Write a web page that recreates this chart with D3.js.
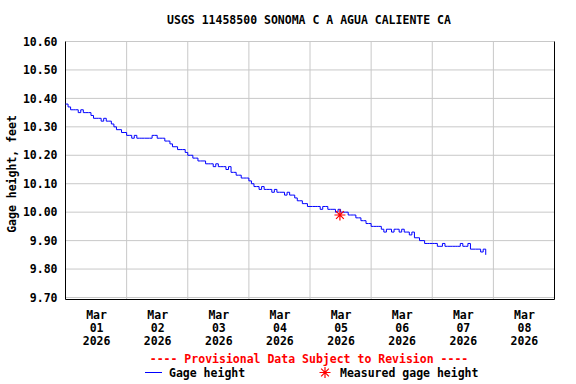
<!DOCTYPE html>
<html>
<head>
<meta charset="utf-8">
<script src="https://cdn.jsdelivr.net/npm/d3@7"></script>
<style>
body { margin: 0; background: #fff; }
text { font-family: "DejaVu Sans Mono", monospace; font-weight: bold; font-size: 11.5px; }
</style>
</head>
<body>
<div id="figzone"></div>
<script>
// hourly gage height (ft), one array per day starting Mar 01 00:00
var gageMar01 = [10.38,10.37,10.36,10.36,10.36,10.35,10.36,10.35,10.35,10.35,10.34,10.33,10.33,10.33,10.32,10.33,10.32,10.32,10.31,10.30,10.29,10.29,10.28,10.28];
var gageMar02 = [10.27,10.27,10.26,10.27,10.26,10.26,10.26,10.26,10.26,10.26,10.27,10.27,10.26,10.26,10.26,10.25,10.25,10.24,10.23,10.23,10.22,10.22,10.22,10.21];
var gageMar03 = [10.20,10.20,10.19,10.19,10.18,10.18,10.18,10.17,10.17,10.17,10.16,10.17,10.16,10.16,10.16,10.15,10.16,10.14,10.14,10.13,10.13,10.12,10.12,10.12];
var gageMar04 = [10.11,10.10,10.09,10.09,10.08,10.09,10.08,10.08,10.08,10.07,10.08,10.07,10.07,10.07,10.06,10.07,10.06,10.06,10.05,10.04,10.04,10.03,10.03,10.02];
var gageMar05 = [10.02,10.02,10.02,10.02,10.01,10.02,10.02,10.01,10.01,10.01,10.00,10.01,10.00,10.00,10.00,9.99,9.99,9.99,9.98,9.98,9.97,9.97,9.96,9.96];
var gageMar06 = [9.95,9.95,9.95,9.95,9.94,9.93,9.94,9.94,9.93,9.94,9.94,9.93,9.94,9.93,9.93,9.92,9.93,9.91,9.91,9.90,9.90,9.89,9.89,9.89];
var gageMar07 = [9.89,9.89,9.88,9.88,9.89,9.88,9.88,9.88,9.88,9.88,9.88,9.89,9.88,9.88,9.89,9.87,9.87,9.87,9.87,9.86,9.87,9.85];

var measuredTime = [new Date(Date.UTC(2026, 2, 5, 11, 45))];
var measuredValue = [9.99];

var yTicks = [9.70, 9.80, 9.90, 10.00, 10.10, 10.20, 10.30, 10.40, 10.50, 10.60];
var dayLabels = ["01", "02", "03", "04", "05", "06", "07", "08"];

var figWidth = 576, figHeight = 384;
var plotL = 65.5, plotR = 554.5, plotT = 41.5, plotB = 297.5;

var svg = d3.select("#figzone").append("svg").attr("width", figWidth).attr("height", figHeight);

var x = d3.scaleUtc().domain([new Date(Date.UTC(2026, 2, 1)), new Date(Date.UTC(2026, 2, 9))]).range([plotL, plotR]);
var y = d3.scaleLinear().domain([9.70, 10.60]).range([plotB, plotT]);

// build series
var series = [];
[gageMar01, gageMar02, gageMar03, gageMar04, gageMar05, gageMar06, gageMar07].forEach(function(arr, di){
    arr.forEach(function(v, h){
        series.push({t: new Date(Date.UTC(2026, 2, 1 + di, h)), v: v});
    });
});

// grid
var gGrid = svg.append("g").attr("class", "grid");
var midnights = d3.range(1, 8).map(function(i){ return new Date(Date.UTC(2026, 2, 1 + i)); });
gGrid.selectAll("line.v").data(midnights).enter().append("line")
    .attr("x1", function(d){ return x(d); }).attr("x2", function(d){ return x(d); })
    .attr("y1", plotT).attr("y2", plotB + 2)
    .style("stroke", "#c8c8c8").style("stroke-width", 1);
gGrid.selectAll("line.h").data(yTicks).enter().append("line")
    .attr("x1", plotL).attr("x2", plotR)
    .attr("y1", function(d){ return y(d); }).attr("y2", function(d){ return y(d); })
    .style("stroke", "#c8c8c8").style("stroke-width", 1);

// frame (left, bottom, right)
svg.append("path")
    .attr("d", "M" + plotL + "," + plotT + "V" + (plotB + 2) + "H" + plotR + "V" + plotT)
    .style("fill", "none").style("stroke", "#000").style("stroke-width", 1);

// y axis labels
var yAxis = d3.axisLeft(y).tickValues(yTicks).tickSize(0).tickPadding(8)
    .tickFormat(d3.format(".2f"));
var gy = svg.append("g").attr("transform", "translate(" + plotL + ",0)").call(yAxis);
gy.select(".domain").remove();
gy.attr("font-family", null).attr("font-size", null);
gy.selectAll("text").attr("fill", "#000");

// x axis labels at noon
var noons = d3.range(0, 8).map(function(i){ return new Date(Date.UTC(2026, 2, 1 + i, 12)); });
var xAxis = d3.axisBottom(x).tickValues(noons).tickSize(0).tickFormat("");
var gx = svg.append("g").attr("transform", "translate(0," + (plotB + 2) + ")").call(xAxis);
gx.select(".domain").remove();
gx.attr("font-family", null).attr("font-size", null);
gx.selectAll(".tick").each(function(d, i){
    var t = d3.select(this).select("text").attr("y", 0).attr("dy", null).attr("fill", "#000");
    t.append("tspan").attr("x", 0).attr("y", 19).text("Mar");
    t.append("tspan").attr("x", 0).attr("y", 32).text(dayLabels[i]);
    t.append("tspan").attr("x", 0).attr("y", 45).text("2026");
});

// data line
var line = d3.line()
    .x(function(d){ return x(d.t); })
    .y(function(d){ return y(d.v); })
    .curve(d3.curveStepAfter);
svg.append("path").datum(series)
    .attr("d", line)
    .style("fill", "none").style("stroke", "#0000ff").style("stroke-width", 1);

// measured marker
function star(cx, cy, r){
    var d = "";
    [0, 45, 90, 135].forEach(function(a){
        var rad = a * Math.PI / 180;
        var dx = r * Math.cos(rad), dy = r * Math.sin(rad);
        d += "M" + (cx - dx) + "," + (cy - dy) + "L" + (cx + dx) + "," + (cy + dy);
    });
    return d;
}
svg.selectAll("path.meas").data(measuredTime).enter().append("path")
    .attr("class", "meas")
    .attr("d", function(d, i){ return star(x(d), y(measuredValue[i]), 5.5); })
    .style("stroke", "#ff0000").style("stroke-width", 1.2).style("fill", "none");

// title
svg.append("text").attr("x", 309).attr("y", 24).attr("text-anchor", "middle")
    .text("USGS 11458500 SONOMA C A AGUA CALIENTE CA");

// y label
svg.append("text").attr("transform", "translate(16,174) rotate(-90)")
    .attr("text-anchor", "middle").text("Gage height, feet");

// legend
svg.append("text").attr("x", 309).attr("y", 363).attr("text-anchor", "middle")
    .attr("fill", "#ff0000").text("---- Provisional Data Subject to Revision ----");
svg.append("line").attr("x1", 145).attr("x2", 162).attr("y1", 372.5).attr("y2", 372.5)
    .style("stroke", "#0000ff").style("stroke-width", 1);
svg.append("text").attr("x", 169).attr("y", 377).text("Gage height");
svg.append("path").attr("d", star(325, 372.5, 5.5))
    .style("stroke", "#ff0000").style("stroke-width", 1.2);
svg.append("text").attr("x", 340).attr("y", 377).text("Measured gage height");
</script>
</body>
</html>
